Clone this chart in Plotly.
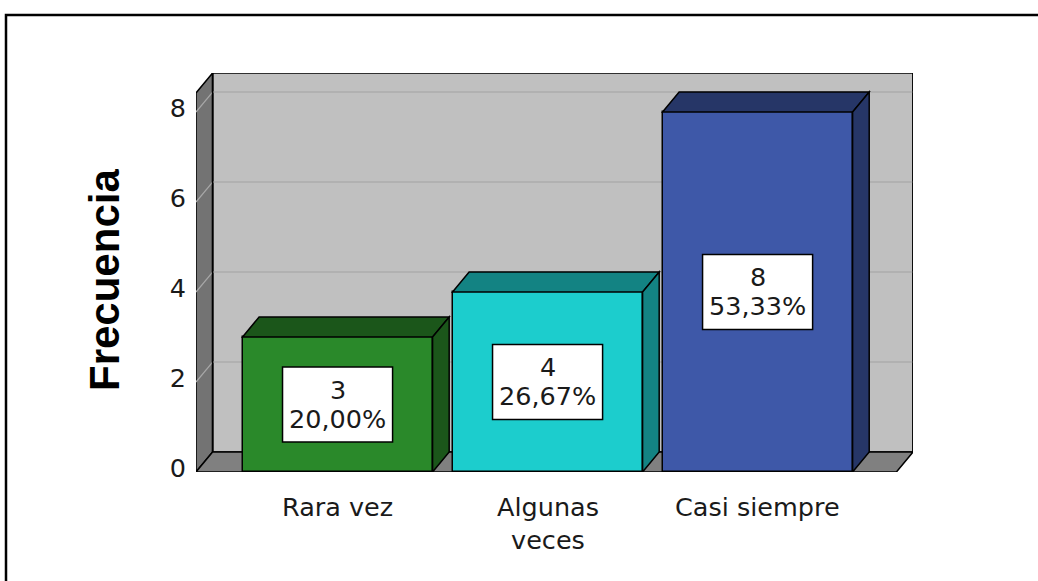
import plotly.graph_objects as go

# ---- data ----
categories = ["Rara vez", "Algunas<br>veces", "Casi siempre"]
counts = [3, 4, 8]
percents = ["20,00%", "26,67%", "53,33%"]
y_ticks = [0, 2, 4, 6, 8]
y_title = "Frecuencia"

# ---- style ----
front_colors = ["#2a892a", "#1ccdcd", "#3e58a8"]
dark_colors = ["#1b561a", "#138383", "#263667"]
FONT = "DejaVu Sans, Verdana, sans-serif"
TFONT = "Liberation Sans, Arial, sans-serif"
FS = 25.5

BAR_W = 0.905          # bar width in category units
DX, DY = 0.079, 0.444  # 3D depth offset (x units, y units)
X0, X1 = -0.674, 2.740
YTOP = 8.867
BOX_W, BOX_H = 0.524, 1.667   # label boxes in data units

xs = list(range(len(categories)))

fig = go.Figure()
fig.add_trace(go.Bar(
    x=xs, y=counts, width=BAR_W,
    marker=dict(color=front_colors, line=dict(color="black", width=1.5)),
    hoverinfo="skip", showlegend=False,
))

shapes = []
# back wall
shapes.append(dict(type="rect", xref="x", yref="y", layer="below",
                   x0=X0 + DX, x1=X1, y0=DY, y1=YTOP,
                   fillcolor="#c0c0c0", line=dict(color="black", width=1.5)))
# left wall
shapes.append(dict(type="path", xref="x", yref="y", layer="below",
                   path=f"M {X0},0 L {X0},{YTOP-DY} L {X0+DX},{YTOP} L {X0+DX},{DY} Z",
                   fillcolor="#737373", line=dict(color="black", width=1.5)))
# floor
shapes.append(dict(type="path", xref="x", yref="y", layer="below",
                   path=f"M {X0},0 L {X0+DX},{DY} L {X1},{DY} L {X1-DX},0 Z",
                   fillcolor="#808080", line=dict(color="black", width=1.5)))
# gridlines
for v in y_ticks[1:]:
    shapes.append(dict(type="line", xref="x", yref="y", layer="below",
                       x0=X0 + DX, x1=X1, y0=v + DY, y1=v + DY,
                       line=dict(color="#adadad", width=1.5)))
    shapes.append(dict(type="line", xref="x", yref="y", layer="below",
                       x0=X0, x1=X0 + DX, y0=v, y1=v + DY,
                       line=dict(color="#a8a8a8", width=1.2)))
# redraw wall edges on top of grid
shapes.append(dict(type="line", xref="x", yref="y", layer="below",
                   x0=X0 + DX, x1=X0 + DX, y0=DY, y1=YTOP,
                   line=dict(color="black", width=1.5)))
shapes.append(dict(type="line", xref="x", yref="y", layer="below",
                   x0=X1, x1=X1, y0=DY, y1=YTOP,
                   line=dict(color="black", width=1.5)))

# bar tops and sides
for i, v in enumerate(counts):
    l, r = xs[i] - BAR_W / 2, xs[i] + BAR_W / 2
    shapes.append(dict(type="path", xref="x", yref="y",
                       path=f"M {l},{v} L {l+DX},{v+DY} L {r+DX},{v+DY} L {r},{v} Z",
                       fillcolor=dark_colors[i], line=dict(color="black", width=1.5)))
    shapes.append(dict(type="path", xref="x", yref="y",
                       path=f"M {r},0 L {r},{v} L {r+DX},{v+DY} L {r+DX},{DY} Z",
                       fillcolor=dark_colors[i], line=dict(color="black", width=1.5)))
    # value label box
    shapes.append(dict(type="rect", xref="x", yref="y",
                       x0=xs[i] - BOX_W / 2, x1=xs[i] + BOX_W / 2,
                       y0=v / 2 - BOX_H / 2, y1=v / 2 + BOX_H / 2,
                       fillcolor="white", line=dict(color="black", width=1.5)))

# outer frame
W, H = 1038, 581
ML, MR, MT, MB = 196, 125, 73, 109
pw, ph = W - ML - MR, H - MT - MB
def px(x): return (x - ML) / pw
def py(y): return (H - MB - y) / ph
shapes.append(dict(type="rect", xref="paper", yref="paper",
                   x0=px(6), x1=px(1060), y0=py(600), y1=py(15),
                   line=dict(color="black", width=2.5), fillcolor="rgba(0,0,0,0)"))

annotations = []
for i, v in enumerate(counts):
    for j, line in enumerate([str(v), percents[i]]):
        annotations.append(dict(
            x=xs[i], y=v / 2, xref="x", yref="y",
            text=line, showarrow=False, yshift=14 - 29 * j + 1,
            font=dict(family=FONT, size=FS, color="#1a1a1a"),
            xanchor="center", yanchor="middle",
        ))
# category labels
for i, cat in enumerate(categories):
    annotations.append(dict(
        x=xs[i], y=0, xref="x", yref="y",
        text=cat, showarrow=False, yanchor="top", yshift=-18,
        font=dict(family=FONT, size=FS, color="#1a1a1a"),
        xanchor="center", align="center",
    ))
annotations.append(dict(
    x=px(104), y=py(280), xref="paper", yref="paper",
    text=f"<b>{y_title}</b>", textangle=-90, showarrow=False,
    font=dict(family=TFONT, size=42, color="black"),
    xanchor="center", yanchor="middle",
))

fig.update_layout(
    width=W, height=H, autosize=False,
    margin=dict(l=ML, r=MR, t=MT, b=MB, pad=0),
    paper_bgcolor="white", plot_bgcolor="rgba(0,0,0,0)",
    shapes=shapes, annotations=annotations,
    bargap=0, showlegend=False,
    xaxis=dict(range=[X0, X1], showticklabels=False,
               showgrid=False, zeroline=False, showline=False, ticks="",
               fixedrange=True),
    yaxis=dict(range=[0, YTOP], tickvals=y_ticks,
               showgrid=False, zeroline=False, showline=False, ticks="",
               tickfont=dict(family=FONT, size=FS, color="#1a1a1a"),
               ticklabelstandoff=9, ticklabelshift=-4, fixedrange=True),
)

fig.write_html("out.html", config={"displayModeBar": False},
               post_script="document.body.style.margin='0';document.body.style.overflow='hidden';")
